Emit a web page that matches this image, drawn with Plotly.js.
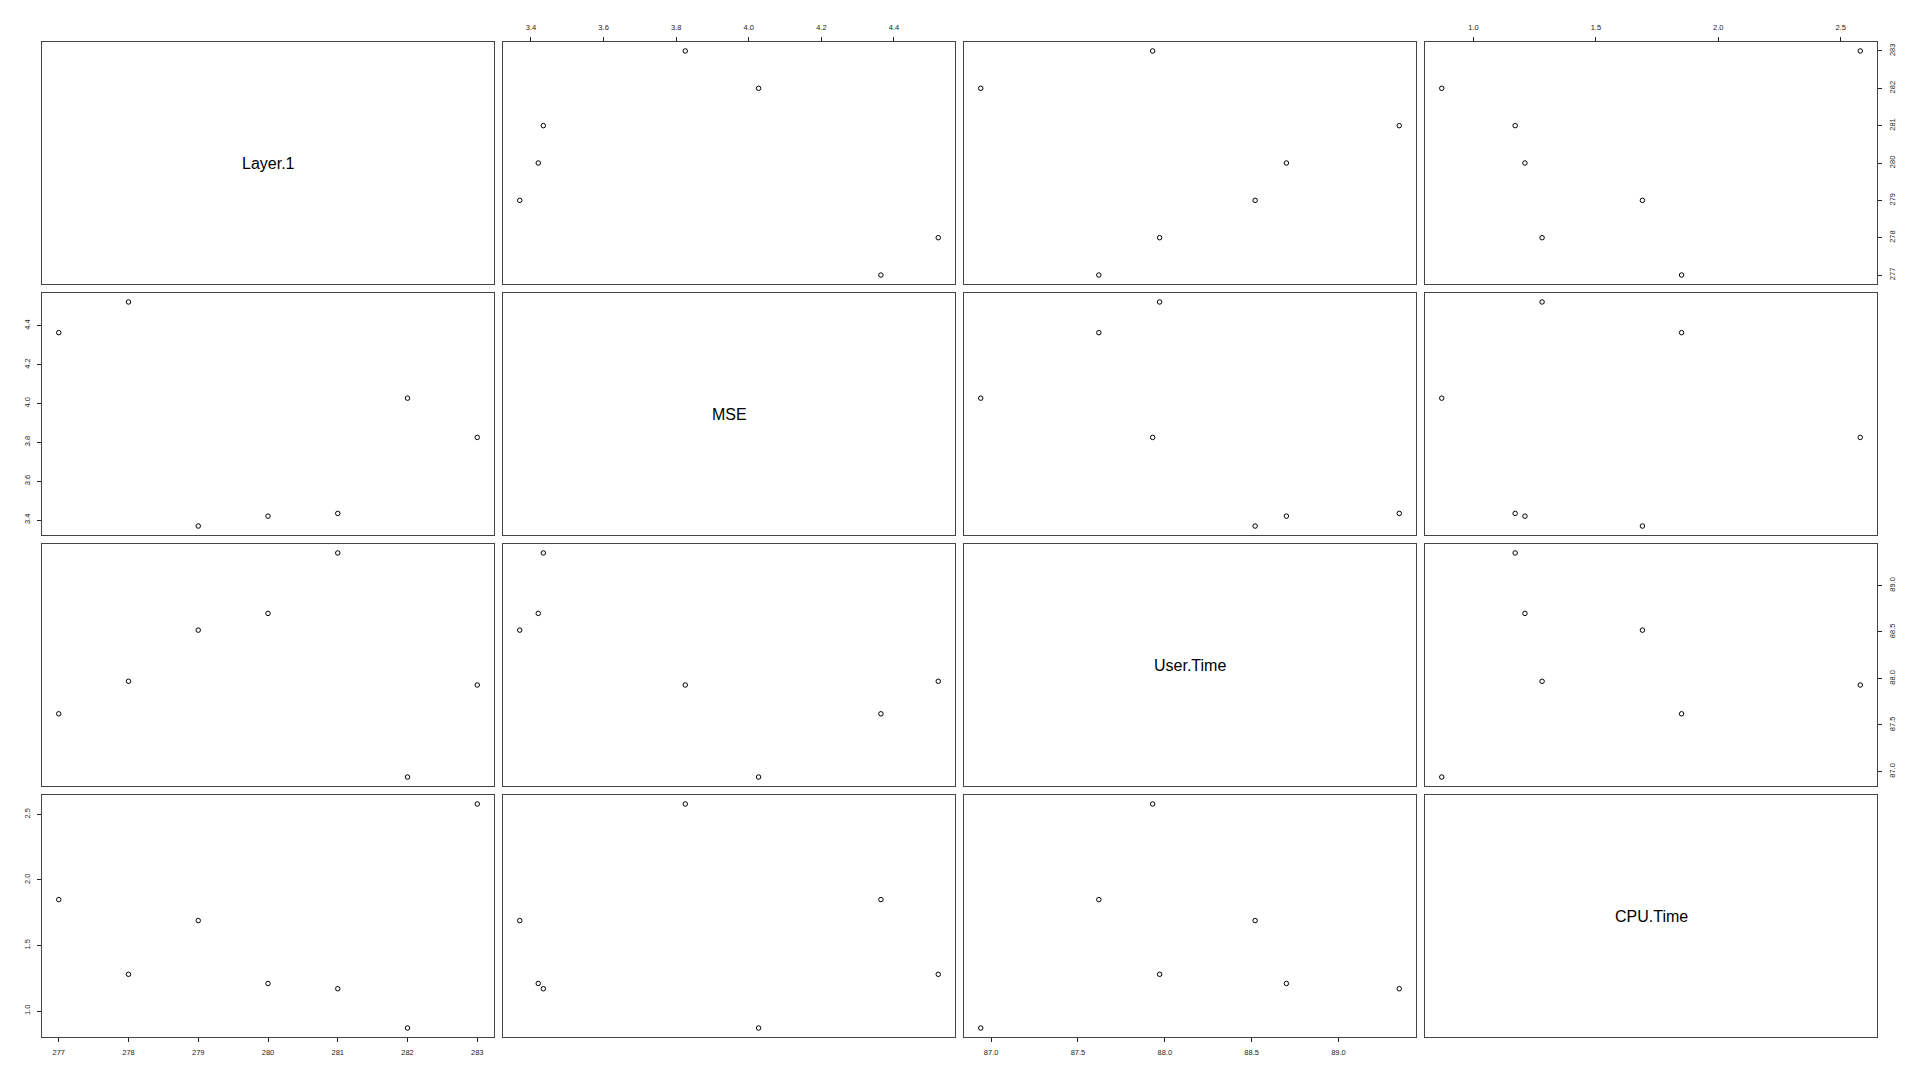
<!DOCTYPE html>
<html>
<head>
<meta charset="utf-8">
<script src="https://cdn.plot.ly/plotly-3.0.1.min.js"></script>
<style>html,body{margin:0;padding:0;background:#fff;}#chart{width:1920px;height:1080px;}</style>
</head>
<body>
<div id="chart"></div>
<script>
// Variable names (diagonal labels)
const varNames = ["Layer.1", "MSE", "User.Time", "CPU.Time"];

// Data (7 observations)
const layer1   = [277, 278, 279, 280, 281, 282, 283];
const mse      = [4.364, 4.522, 3.369, 3.420, 3.434, 4.027, 3.825];
const userTime = [87.62, 87.97, 88.52, 88.70, 89.35, 86.94, 87.93];
const cpuTime  = [1.85, 1.28, 1.69, 1.21, 1.17, 0.87, 2.58];

// Tick values / labels
const layer1Ticks = [277, 278, 279, 280, 281, 282, 283];
const layer1TickText = ["277", "278", "279", "280", "281", "282", "283"];
const mseTicks = [3.4, 3.6, 3.8, 4.0, 4.2, 4.4];
const mseTickText = ["3.4", "3.6", "3.8", "4.0", "4.2", "4.4"];
const userTicks = [87.0, 87.5, 88.0, 88.5, 89.0];
const userTickText = ["87.0", "87.5", "88.0", "88.5", "89.0"];
const cpuTicks = [1.0, 1.5, 2.0, 2.5];
const cpuTickText = ["1.0", "1.5", "2.0", "2.5"];

const vars = [layer1, mse, userTime, cpuTime];
const tickVals = [layer1Ticks, mseTicks, userTicks, cpuTicks];
const tickTexts = [layer1TickText, mseTickText, userTickText, cpuTickText];

function rRange(a) {
  const mn = Math.min(...a), mx = Math.max(...a), d = mx - mn;
  return [mn - 0.04 * d, mx + 0.04 * d];
}

const W = 1920, H = 1080;
const ml = 42, mr = 43, mt = 42, mb = 43;
const pw = W - ml - mr, ph = H - mt - mb;
const cellW = 452, gapX = 9, cellH = 242, gapY = 9;
const n = 4;

const lineColor = "#444";
const tickFont = {family: "Liberation Sans, Arial, sans-serif", size: 7.5, color: "#222"};

const traces = [];
const layout = {
  width: W, height: H,
  margin: {l: ml, r: mr, t: mt, b: mb, pad: 0},
  paper_bgcolor: "#fff", plot_bgcolor: "#fff",
  showlegend: false,
  annotations: []
};

for (let r = 0; r < n; r++) {
  for (let c = 0; c < n; c++) {
    const k = r * n + c + 1;
    const xa = "xaxis" + (k === 1 ? "" : k);
    const ya = "yaxis" + (k === 1 ? "" : k);
    const xid = "x" + (k === 1 ? "" : k);
    const yid = "y" + (k === 1 ? "" : k);
    const x0 = (c * (cellW + gapX)) / pw, x1 = (c * (cellW + gapX) + cellW) / pw;
    const yTop = (ph - r * (cellH + gapY)) / ph, yBot = (ph - r * (cellH + gapY) - cellH) / ph;

    const showXTop = (r === 0 && (c === 1 || c === 3));
    const showXBot = (r === n - 1 && (c === 0 || c === 2));
    const showYLeft = (c === 0 && (r === 1 || r === 3));
    const showYRight = (c === n - 1 && (r === 0 || r === 2));

    layout[xa] = {
      domain: [x0, x1], anchor: yid,
      range: rRange(vars[c]),
      showline: true, mirror: true, linecolor: lineColor, linewidth: 1,
      showgrid: false, zeroline: false,
      side: showXTop ? "top" : "bottom",
      showticklabels: showXTop || showXBot,
      ticks: (showXTop || showXBot) ? "outside" : "",
      ticklen: 4, tickwidth: 1, tickcolor: "#222",
      tickvals: tickVals[c], ticktext: tickTexts[c],
      tickfont: tickFont, ticklabelstandoff: 4,
      fixedrange: true
    };
    layout[ya] = {
      domain: [yBot, yTop], anchor: xid,
      range: rRange(vars[r]),
      showline: true, mirror: true, linecolor: lineColor, linewidth: 1,
      showgrid: false, zeroline: false,
      side: showYRight ? "right" : "left",
      showticklabels: showYLeft || showYRight,
      ticks: (showYLeft || showYRight) ? "outside" : "",
      ticklen: 4, tickwidth: 1, tickcolor: "#222",
      tickvals: tickVals[r], ticktext: tickTexts[r],
      tickangle: -90,
      tickfont: tickFont, ticklabelstandoff: 4,
      fixedrange: true
    };

    if (r === c) {
      // empty trace so the diagonal panel's axes/box are drawn
      traces.push({
        type: "scatter", mode: "markers",
        x: [null], y: [null],
        xaxis: xid, yaxis: yid,
        hoverinfo: "skip"
      });
      layout.annotations.push({
        xref: xid + " domain", yref: yid + " domain",
        x: 0.5, y: 0.5, xanchor: "center", yanchor: "middle",
        text: varNames[r], showarrow: false,
        font: {family: "Liberation Sans, Arial, sans-serif", size: 16, color: "#000"}
      });
    } else {
      traces.push({
        type: "scatter", mode: "markers",
        x: vars[c], y: vars[r],
        xaxis: xid, yaxis: yid,
        marker: {symbol: "circle-open", size: 4.5, color: "#000", line: {width: 1, color: "#000"}},
        hoverinfo: "skip"
      });
    }
  }
}

Plotly.newPlot("chart", traces, layout, {staticPlot: true, displayModeBar: false});
</script>
</body>
</html>
